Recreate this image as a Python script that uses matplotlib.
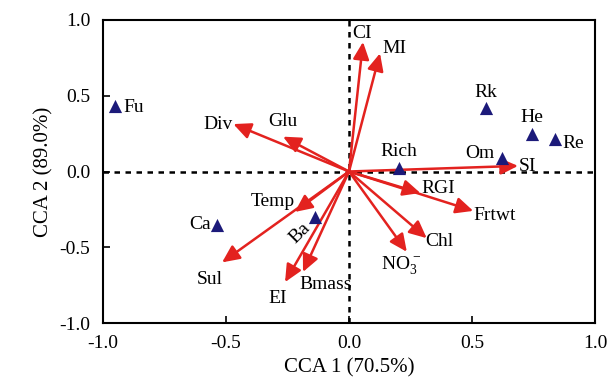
import matplotlib
matplotlib.use("Agg")
import matplotlib.pyplot as plt

plt.rcParams['font.family'] = ['Liberation Serif', 'DejaVu Serif']
plt.rcParams['mathtext.fontset'] = 'custom'
plt.rcParams['mathtext.rm'] = 'Liberation Serif'

# Species (triangles)
species = ["Fu", "Rk", "He", "Re", "Om", "Rich", "Ca", "Ba"]
sp_x = [-0.951, 0.557, 0.744, 0.837, 0.622, 0.203, -0.537, -0.138]
sp_y = [0.432, 0.419, 0.248, 0.214, 0.089, 0.023, -0.353, -0.30]

# Environmental vectors (arrows)
env = ["CI", "MI", "SI", "RGI", "Frtwt", "Chl", "NO$_3^-$", "Bmass", "EI", "Sul", "Temp", "Div", "Glu"]
env_x = [0.057, 0.126, 0.687, 0.29, 0.505, 0.316, 0.235, -0.187, -0.26, -0.516, -0.22, -0.47, -0.268]
env_y = [0.855, 0.78, 0.037, -0.142, -0.26, -0.44, -0.53, -0.663, -0.73, -0.60, -0.267, 0.313, 0.23]

ticks = [-1.0, -0.5, 0.0, 0.5, 1.0]
tick_labels = ["-1.0", "-0.5", "0.0", "0.5", "1.0"]

fig = plt.figure(figsize=(6.11, 3.87), dpi=100)
ax = fig.add_axes([103/611, 1 - 323/387, (595-103)/611, (323-20)/387])
ax.set_xlim(-1, 1)
ax.set_ylim(-1, 1)

ax.axhline(0, color='black', ls=(0, (2.2, 2.2)), lw=1.8, zorder=1)
ax.axvline(0, color='black', ls=(0, (2.2, 2.2)), lw=1.8, zorder=1)

red = '#e3221f'
navy = '#1c1a7a'
for x, y in zip(env_x, env_y):
    ax.annotate("", xy=(x, y), xytext=(0, 0),
                arrowprops=dict(arrowstyle='-|>,head_length=0.75,head_width=0.35',
                                color=red, lw=1.8, shrinkA=0, shrinkB=0,
                                mutation_scale=14),
                zorder=3)

ax.scatter(sp_x, sp_y, marker='^', s=90, color=navy, zorder=4, linewidths=0)

fs = 14
sp_lab = {
    "Fu": (0.035, -0.01, 'left', 'center'),
    "Rk": (0.0, 0.10, 'center', 'center'),
    "He": (0.0, 0.11, 'center', 'center'),
    "Re": (0.03, -0.03, 'left', 'center'),
    "Om": (-0.03, 0.03, 'right', 'center'),
    "Rich": (0.0, 0.11, 'center', 'center'),
    "Ca": (-0.025, 0.0, 'right', 'center'),
}
for name, x, y in zip(species, sp_x, sp_y):
    if name == "Ba":
        ax.text(x - 0.062, y - 0.105, "Ba", fontsize=fs, rotation=45,
                ha='center', va='center', zorder=5)
        continue
    dx, dy, ha, va = sp_lab[name]
    ax.text(x + dx, y + dy, name, fontsize=fs, ha=ha, va=va, zorder=5)

env_lab = [
    (-0.045, 0.055, 'left', 'center'),  # CI
    (0.01, 0.03, 'left', 'center'),     # MI
    (0.005, -0.005, 'left', 'center'),  # SI
    (0.005, 0.03, 'left', 'center'),    # RGI
    (0.0, -0.03, 'left', 'center'),     # Frtwt
    (-0.005, -0.02, 'left', 'center'),  # Chl
    (-0.025, -0.09, 'center', 'center'),# NO3
    (-0.015, -0.08, 'left', 'center'),  # Bmass
    (-0.03, -0.11, 'center', 'center'), # EI
    (-0.05, -0.11, 'center', 'center'), # Sul
    (-0.09, 0.07, 'center', 'center'),  # Temp
    (-0.005, 0.0, 'right', 'center'),   # Div
    (0.0, 0.10, 'center', 'center'),    # Glu
]
for name, x, y, (dx, dy, ha, va) in zip(env, env_x, env_y, env_lab):
    ax.text(x + dx, y + dy, name, fontsize=fs, ha=ha, va=va, zorder=5)

ax.set_xticks(ticks)
ax.set_xticklabels(tick_labels)
ax.set_yticks(ticks)
ax.set_yticklabels(tick_labels)
ax.tick_params(direction='in', length=5, width=1.2, labelsize=14, pad=9)
for s in ax.spines.values():
    s.set_linewidth(1.5)

ax.set_xlabel("CCA 1 (70.5%)", fontsize=15, labelpad=4)
ax.set_ylabel("CCA 2 (89.0%)", fontsize=15, labelpad=4)

fig.savefig("out.png", dpi=100)
